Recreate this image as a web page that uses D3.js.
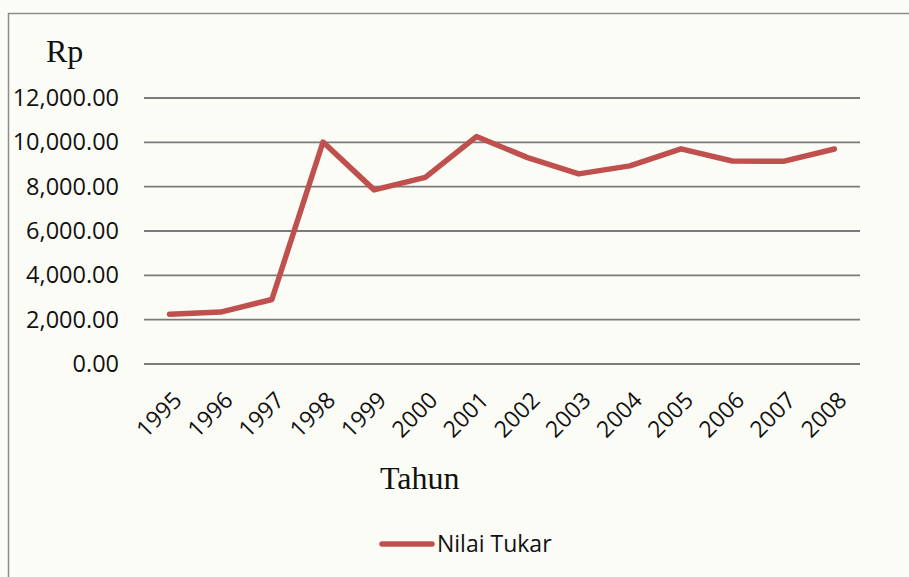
<!DOCTYPE html>
<html>
<head>
<meta charset="utf-8">
<script src="https://cdn.jsdelivr.net/npm/d3@7"></script>
<style>
  body { margin: 0; background: #fcfcf7; }
  svg { display: block; }
</style>
</head>
<body>
<svg id="chart" width="909" height="577"></svg>
<script>
// data (Rp per USD, yearly)
const years = ["1995", "1996", "1997", "1998", "1999", "2000", "2001",
  "2002", "2003", "2004", "2005", "2006", "2007", "2008"];
const nilaiTukar = [2249, 2342, 2909, 10014, 7855, 8422, 10261,
  9311, 8577, 8939, 9705, 9159, 9141, 9699];
const yTicks = [0, 2000, 4000, 6000, 8000, 10000, 12000];
const seriesName = "Nilai Tukar";

const svg = d3.select("#chart");
const lineColour = "#c0504d";
const gridColour = "#7a7a7a";
const sans = "'Open Sans', sans-serif";
const serif = "'Liberation Serif', 'Times New Roman', serif";

// chart border (left + top edges visible)
svg.append("path")
    .attr("d", "M8.5,577 V13.5 H909")
    .attr("fill", "none")
    .attr("stroke", "#8c8c8c")
    .attr("stroke-width", 1.5);

const x = d3.scaleBand()
    .domain(years)
    .range([144, 860]);

const y = d3.scaleLinear()
    .domain([0, 12000])
    .range([364, 98]);

// gridlines
svg.append("g")
    .selectAll("line")
    .data(yTicks)
    .enter()
    .append("line")
    .attr("x1", 144)
    .attr("x2", 860)
    .attr("y1", d => y(d))
    .attr("y2", d => y(d))
    .attr("stroke", gridColour)
    .attr("stroke-width", 1.8);

// y labels
const fmt = d3.format(",.2f");
const yAxis = d3.axisLeft(y).tickValues(yTicks).tickFormat(fmt).tickSize(0).tickPadding(0);
const gy = svg.append("g")
    .attr("transform", "translate(119,0)")
    .call(yAxis);
gy.select(".domain").remove();
gy.selectAll("text")
    .attr("font-family", sans)
    .attr("font-size", 23.5)
    .attr("fill", "#111");

// x labels, rotated
const xAxis = d3.axisBottom(x).tickSize(0).tickPadding(0);
const gx = svg.append("g")
    .attr("transform", "translate(0,364)")
    .call(xAxis);
gx.select(".domain").remove();
gx.selectAll("text")
    .attr("font-family", sans)
    .attr("font-size", 23)
    .attr("fill", "#111")
    .attr("text-anchor", "end")
    .attr("dy", "0.35em")
    .attr("transform", "translate(8,32) rotate(-45)");

// the line
const line = d3.line()
    .x((d, i) => x(years[i]) + x.bandwidth() / 2)
    .y(d => y(d));

svg.append("path")
    .datum(nilaiTukar)
    .attr("d", line)
    .attr("fill", "none")
    .attr("stroke", lineColour)
    .attr("stroke-width", 5.5)
    .attr("stroke-linejoin", "round")
    .attr("stroke-linecap", "round");

// axis titles
svg.append("text")
    .attr("x", 46)
    .attr("y", 62)
    .attr("font-family", serif)
    .attr("font-size", 32)
    .attr("fill", "#111")
    .text("Rp");

svg.append("text")
    .attr("x", 380)
    .attr("y", 489)
    .attr("font-family", serif)
    .attr("font-size", 32)
    .attr("fill", "#111")
    .text("Tahun");

// legend
svg.append("line")
    .attr("x1", 382)
    .attr("x2", 432)
    .attr("y1", 544)
    .attr("y2", 544)
    .attr("stroke", lineColour)
    .attr("stroke-width", 5.5)
    .attr("stroke-linecap", "round");

svg.append("text")
    .attr("x", 437)
    .attr("y", 552)
    .attr("font-family", sans)
    .attr("font-size", 23)
    .attr("fill", "#111")
    .text(seriesName);
</script>
</body>
</html>
